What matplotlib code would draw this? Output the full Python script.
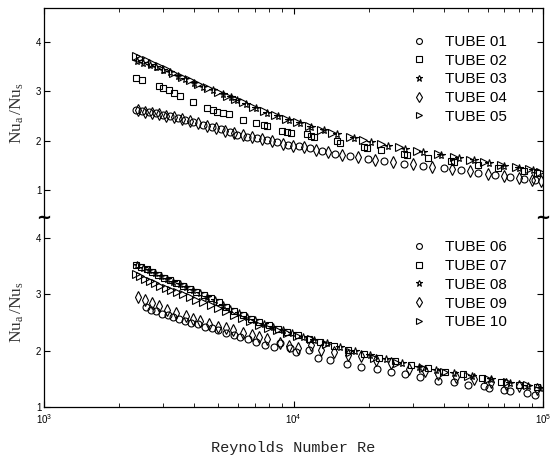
import numpy as np
import matplotlib
matplotlib.use('Agg')
import matplotlib.pyplot as plt

plt.rcParams['font.family'] = ['Liberation Sans', 'DejaVu Sans']
plt.rcParams['mathtext.fontset'] = 'custom'
plt.rcParams['mathtext.rm'] = 'Liberation Serif'
plt.rcParams['mathtext.it'] = 'Liberation Serif:italic'

# ---------------- upper panel : tubes 01-05 ----------------
re_01 = [2340, 2480, 2640, 2810, 3000, 3210, 3440, 3690, 3970, 4350, 4700, 5100, 5550, 5960, 6500,
         7150, 7850, 8600, 9500, 10500, 11600, 13000, 14600, 16900, 19800, 23000, 27700, 33000, 40000, 47000,
         55000, 64000, 74000, 84000, 93000]
nu_01 = [2.63, 2.61, 2.58, 2.55, 2.52, 2.49, 2.45, 2.41, 2.37, 2.32, 2.28, 2.24, 2.17, 2.12, 2.07,
         2.05, 2.02, 1.97, 1.92, 1.90, 1.84, 1.78, 1.73, 1.68, 1.63, 1.58, 1.53, 1.48, 1.44, 1.40,
         1.35, 1.31, 1.27, 1.23, 1.20]

re_02 = [2340, 2480, 2880, 3010, 3160, 3330, 3500, 3950, 4500, 4750, 4950, 5200, 5500, 6300, 7100,
         7600, 7850, 9000, 9400, 9800, 11300, 11700, 12100, 15000, 15400, 19100, 19700, 22500, 27700, 28500,
         34500, 42700, 44000, 55000, 66000, 84000, 95000]
nu_02 = [3.27, 3.23, 3.10, 3.07, 3.02, 2.96, 2.90, 2.79, 2.66, 2.62, 2.59, 2.56, 2.53, 2.42, 2.36,
         2.32, 2.29, 2.20, 2.18, 2.16, 2.13, 2.10, 2.08, 1.99, 1.96, 1.88, 1.85, 1.80, 1.73, 1.70,
         1.65, 1.58, 1.56, 1.50, 1.45, 1.38, 1.35]

re_03 = [2360, 2500, 2650, 2820, 3000, 3210, 3440, 3690, 3980, 4350, 4750, 5200, 5600, 5960, 6450,
         7050, 7850, 8700, 9600, 10600, 11800, 13200, 15000, 17400, 20500, 24000, 28000, 33000, 39000, 46000,
         53000, 61000, 70000, 80000, 91000]
nu_03 = [3.62, 3.57, 3.53, 3.49, 3.44, 3.39, 3.32, 3.25, 3.17, 3.09, 3.02, 2.95, 2.88, 2.83, 2.75,
         2.67, 2.57, 2.49, 2.42, 2.35, 2.28, 2.21, 2.13, 2.05, 1.98, 1.90, 1.83, 1.77, 1.71, 1.65,
         1.61, 1.55, 1.49, 1.45, 1.40]

re_04 = [2380, 2540, 2700, 2880, 3090, 3320, 3560, 3830, 4150, 4520, 4900, 5320, 5760, 6250, 6800,
         7450, 8200, 9050, 9950, 11000, 12300, 13800, 15600, 18200, 21200, 25000, 30000, 36000, 43000, 51000,
         60000, 70000, 80000, 90000, 98000]
nu_04 = [2.62, 2.59, 2.56, 2.53, 2.50, 2.47, 2.43, 2.39, 2.35, 2.30, 2.25, 2.20, 2.15, 2.11, 2.07,
         2.04, 1.99, 1.94, 1.90, 1.86, 1.81, 1.76, 1.71, 1.66, 1.61, 1.57, 1.52, 1.47, 1.42, 1.38,
         1.33, 1.29, 1.25, 1.21, 1.18]

re_05 = [2340, 2430, 2560, 2700, 2880, 3080, 3300, 3560, 3830, 4150, 4550, 4980, 5400, 5850, 6300,
         6900, 7600, 8400, 9300, 10300, 11500, 12900, 14300, 16800, 19000, 22500, 26500, 31400, 37800, 44000,
         51000, 58000, 68000, 78000, 88000, 97000]
nu_05 = [3.72, 3.68, 3.63, 3.58, 3.52, 3.46, 3.38, 3.30, 3.22, 3.14, 3.06, 2.98, 2.91, 2.85, 2.79,
         2.69, 2.60, 2.52, 2.44, 2.37, 2.30, 2.22, 2.16, 2.07, 2.01, 1.93, 1.86, 1.78, 1.72, 1.66,
         1.61, 1.56, 1.50, 1.46, 1.42, 1.37]

# ---------------- lower panel : tubes 06-10 ----------------
re_06 = [2560, 2680, 2820, 2980, 3150, 3300, 3480, 3680, 3900, 4150, 4420, 4700, 5000, 5350, 5750,
         6130, 6600, 7100, 7700, 8330, 8800, 9700, 10200, 11500, 12500, 14000, 16400, 18600, 21700, 24500,
         28000, 32000, 38000, 44000, 50000, 58000, 61000, 70000, 74000, 86000, 93000]
nu_06 = [2.77, 2.73, 2.70, 2.66, 2.63, 2.60, 2.57, 2.53, 2.50, 2.47, 2.43, 2.40, 2.36, 2.32, 2.28,
         2.24, 2.20, 2.16, 2.11, 2.06, 2.14, 2.05, 1.97, 2.02, 1.88, 1.83, 1.77, 1.71, 1.67, 1.62,
         1.59, 1.53, 1.47, 1.45, 1.40, 1.37, 1.33, 1.31, 1.28, 1.25, 1.22]

re_07 = [2340, 2450, 2580, 2720, 2870, 3030, 3200, 3390, 3600, 3830, 4080, 4360, 4670, 5010, 5380,
         5790, 6250, 6750, 7300, 7950, 8650, 9450, 10400, 11500, 12800, 14500, 16500, 19100, 22000, 25500,
         29500, 34500, 40500, 48000, 57000, 68000, 80000, 95000]
nu_07 = [3.53, 3.49, 3.45, 3.40, 3.35, 3.30, 3.25, 3.20, 3.15, 3.10, 3.05, 2.99, 2.93, 2.86, 2.78,
         2.70, 2.63, 2.57, 2.51, 2.45, 2.39, 2.34, 2.28, 2.21, 2.16, 2.09, 2.02, 1.95, 1.88, 1.81,
         1.75, 1.69, 1.63, 1.58, 1.52, 1.45, 1.40, 1.35]

re_08 = [2360, 2490, 2630, 2780, 2940, 3110, 3300, 3500, 3720, 3960, 4220, 4510, 4840, 5200, 5590,
         6020, 6500, 7020, 7620, 8300, 9050, 9900, 10900, 12100, 13600, 15400, 17600, 20300, 23500, 27200,
         31800, 37200, 44000, 52000, 62000, 74000, 87000, 97000]
nu_08 = [3.52, 3.47, 3.43, 3.38, 3.33, 3.28, 3.23, 3.18, 3.13, 3.08, 3.02, 2.96, 2.90, 2.82, 2.75,
         2.67, 2.60, 2.54, 2.48, 2.42, 2.37, 2.31, 2.25, 2.19, 2.13, 2.06, 1.99, 1.92, 1.85, 1.78,
         1.72, 1.66, 1.60, 1.55, 1.49, 1.43, 1.38, 1.34]

re_09 = [2390, 2530, 2700, 2900, 3120, 3380, 3700, 3950, 4230, 4600, 5000, 5350, 5740, 6250, 6800,
         7300, 7850, 8800, 9600, 10400, 11800, 12900, 14500, 16500, 18600, 21500, 24500, 29000, 33500, 38000,
         45000, 53000, 62000, 71000, 80000, 95000]
nu_09 = [2.95, 2.90, 2.84, 2.79, 2.73, 2.67, 2.61, 2.56, 2.52, 2.47, 2.43, 2.40, 2.36, 2.32, 2.28,
         2.24, 2.20, 2.13, 2.09, 2.05, 2.10, 2.02, 1.97, 1.93, 1.90, 1.83, 1.78, 1.68, 1.64, 1.59,
         1.53, 1.49, 1.45, 1.41, 1.38, 1.32]

re_10 = [2330, 2420, 2530, 2650, 2780, 2920, 3070, 3240, 3420, 3620, 3840, 4080, 4350, 4650, 4980,
         5350, 5750, 6200, 6700, 7250, 7900, 8600, 9400, 10300, 11700, 13500, 16900, 21000, 26000, 33000,
         40000, 50000, 60000, 72000, 86000]
nu_10 = [3.36, 3.32, 3.28, 3.24, 3.20, 3.15, 3.12, 3.08, 3.04, 3.00, 2.96, 2.91, 2.86, 2.82, 2.76,
         2.70, 2.63, 2.58, 2.52, 2.46, 2.41, 2.36, 2.31, 2.26, 2.21, 2.12, 1.98, 1.88, 1.79, 1.70,
         1.63, 1.56, 1.50, 1.44, 1.39]

markers = ['o', 's', '*', 'd', '>']
msizes = [5.0, 4.6, 5.8, 5.8, 5.6]
top_sets = [(re_01, nu_01, 'TUBE 01'), (re_02, nu_02, 'TUBE 02'), (re_03, nu_03, 'TUBE 03'),
            (re_04, nu_04, 'TUBE 04'), (re_05, nu_05, 'TUBE 05')]
bot_sets = [(re_06, nu_06, 'TUBE 06'), (re_07, nu_07, 'TUBE 07'), (re_08, nu_08, 'TUBE 08'),
            (re_09, nu_09, 'TUBE 09'), (re_10, nu_10, 'TUBE 10')]

fig = plt.figure(figsize=(5.5, 4.57), dpi=100)
ax1 = fig.add_axes([0.08, 0.523, 0.9073, 0.4595])
ax2 = fig.add_axes([0.08, 0.1094, 0.9073, 0.4136], sharex=ax1)

for ax, sets in [(ax1, top_sets), (ax2, bot_sets)]:
    for (re, nu, lab), m, s in zip(sets, markers, msizes):
        ax.plot(re, nu, ls='none', marker=m, ms=s, mfc='none', mec='k', mew=0.8, label=lab)
    ax.set_xscale('log')
    ax.set_yticks([1, 2, 3, 4])
    ax.tick_params(which='both', direction='in', top=True, right=True, labelsize=7, pad=2)
    ax.tick_params(axis='x', pad=3.5)
    ax.tick_params(which='major', length=4.5, width=0.8)
    ax.tick_params(which='minor', length=3, width=0.6)
    for sp in ax.spines.values():
        sp.set_linewidth(0.9)
    ax.set_ylabel(r'$\mathrm{Nu_a\,/Nu_s}$', fontsize=12.5, labelpad=7, color='#333333')
    ax.legend(loc='upper left', frameon=False, fontsize=11, numpoints=1,
              handlelength=1.0, handletextpad=1.2, labelspacing=0.31,
              borderpad=0, borderaxespad=0, markerscale=0.85)

ax1.set_xlim(1e3, 1e5)
ax1.set_ylim(0.43, 4.69)
ax2.set_ylim(1, 4.36)

ax1.spines['bottom'].set_visible(False)
ax1.tick_params(which='both', bottom=False, labelbottom=False)
ax2.spines['top'].set_visible(False)
ax2.tick_params(which='both', top=False)

ax1.get_legend().set_bbox_to_anchor((0.737, 0.872), transform=ax1.transAxes)
ax2.get_legend().set_bbox_to_anchor((0.737, 0.882), transform=ax2.transAxes)

ax2.set_xlabel('Reynolds Number Re', fontfamily='Liberation Mono', fontsize=11, labelpad=11,
               color='#222222')

# axis break marks
for xb in [0.08, 0.9873]:
    fig.text(xb, 0.523, '~', ha='center', va='center', fontsize=13, fontweight='bold',
             family='DejaVu Sans')

fig.savefig('out.png', dpi=100)
